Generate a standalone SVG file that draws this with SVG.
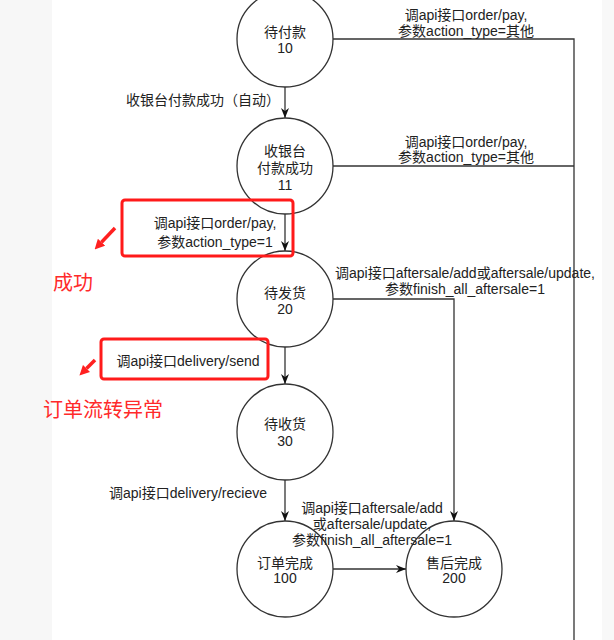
<svg xmlns="http://www.w3.org/2000/svg" width="614" height="640" viewBox="0 0 614 640">
<defs>
<style>
text{font-family:"Liberation Sans","Noto Sans CJK SC",sans-serif;font-size:14px;fill:#222}
.node circle{fill:#fff;stroke:#333;stroke-width:1.3}
.node text{text-anchor:middle}
.edge{fill:none;stroke:#333;stroke-width:1.3}
.lbl{text-anchor:middle}
.redbox{fill:none;stroke:#ff1a1a;stroke-width:3}
.redtxt{fill:#ff2a2a;font-size:20px}
.redline{stroke:#ff2020;stroke-width:3.5;fill:none}
</style>
<marker id="arr" viewBox="0 0 10 8" refX="10" refY="4" markerWidth="10" markerHeight="8" markerUnits="userSpaceOnUse" orient="auto">
<path d="M0,0 L10,4 L0,8 L3,4 z" fill="#111"/>
</marker>
<marker id="redarr" viewBox="0 0 10 10" refX="0" refY="5" markerWidth="10" markerHeight="10" markerUnits="userSpaceOnUse" orient="auto">
<path d="M0,0 L10,5 L0,10 z" fill="#ff2020"/>
</marker>
</defs>
<rect x="0" y="0" width="614" height="640" fill="#fff"/>
<rect x="0" y="0" width="52" height="640" fill="#f7f7f7"/>
<rect x="602" y="0" width="12" height="640" fill="#f8f8f8"/>

<g id="connectors">
<path class="edge" d="M285,87 L285,118" marker-end="url(#arr)"/>
<path class="edge" d="M285,214 L285,251" marker-end="url(#arr)"/>
<path class="edge" d="M285,347 L285,384" marker-end="url(#arr)"/>
<path class="edge" d="M285,480 L285,521" marker-end="url(#arr)"/>
<path class="edge" d="M333,569 L406,569" marker-end="url(#arr)"/>
<path class="edge" d="M333,299 L454,299 L454,521" marker-end="url(#arr)"/>
<path class="edge" d="M333,39 L574,39 L574,640"/>
<path class="edge" d="M333,166 L574,166"/>
</g>

<g id="n10" class="node"><circle cx="285" cy="39" r="48"/><text x="285" y="37">待付款</text><text x="285" y="53">10</text></g>
<g id="n11" class="node"><circle cx="285" cy="166" r="48"/><text x="285" y="156">收银台</text><text x="285" y="173">付款成功</text><text x="285" y="190">11</text></g>
<g id="n20" class="node"><circle cx="285" cy="299" r="48"/><text x="285" y="298">待发货</text><text x="285" y="314">20</text></g>
<g id="n30" class="node"><circle cx="285" cy="432" r="48"/><text x="285" y="429">待收货</text><text x="285" y="446">30</text></g>
<g id="n100" class="node"><circle cx="285" cy="569" r="48"/><text x="285" y="568">订单完成</text><text x="285" y="583">100</text></g>
<g id="n200" class="node"><circle cx="454" cy="569" r="48"/><text x="454" y="568">售后完成</text><text x="454" y="583">200</text></g>

<g id="edge-labels">
<text class="lbl" x="466" y="20">调api接口order/pay,</text>
<text class="lbl" x="466" y="36">参数action_type=其他</text>
<text class="lbl" x="466" y="147">调api接口order/pay,</text>
<text class="lbl" x="466" y="162">参数action_type=其他</text>
<text x="280" y="105" text-anchor="end">收银台付款成功（自动）</text>
<text class="lbl" x="215" y="228">调api接口order/pay,</text>
<text class="lbl" x="215" y="247">参数action_type=1</text>
<text class="lbl" x="188" y="366">调api接口delivery/send</text>
<text class="lbl" x="465" y="278">调api接口aftersale/add或aftersale/update,</text>
<text class="lbl" x="465" y="294">参数finish_all_aftersale=1</text>
<text class="lbl" x="188" y="498">调api接口delivery/recieve</text>
<text class="lbl" x="372" y="513">调api接口aftersale/add</text>
<text class="lbl" x="372" y="529">或aftersale/update,</text>
<text class="lbl" x="372" y="545">参数finish_all_aftersale=1</text>
</g>

<g id="annotations">
<rect class="redbox" x="122" y="200" width="171" height="56" rx="3"/>
<rect class="redbox" x="101" y="339" width="167" height="40" rx="3"/>
<path class="redline" d="M115,228 L101.5,242.2" marker-end="url(#redarr)"/>
<path class="redline" d="M95,360 L86.5,368.5" marker-end="url(#redarr)"/>
<text class="redtxt" x="53" y="290">成功</text>
<text class="redtxt" x="43" y="417">订单流转异常</text>
</g>
</svg>
